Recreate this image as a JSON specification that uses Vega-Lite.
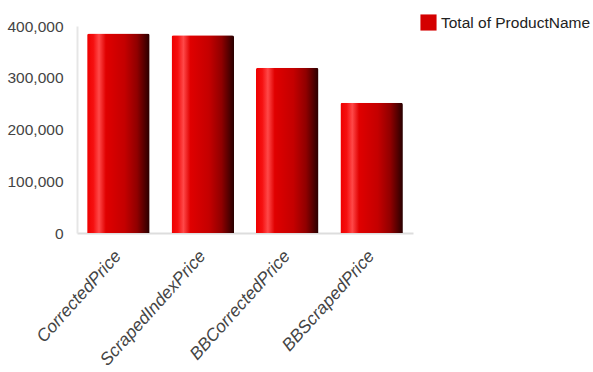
{
  "$schema": "https://vega.github.io/schema/vega-lite/v6.json",
  "autosize": "none",
  "width": 336,
  "height": 207,
  "padding": {"left": 77, "top": 26, "right": 180, "bottom": 139},
  "background": "#ffffff",
  "data": {
    "values": [
      {"category": "CorrectedPrice", "value": 385500, "series": "Total of ProductName"},
      {"category": "ScrapedIndexPrice", "value": 382200, "series": "Total of ProductName"},
      {"category": "BBCorrectedPrice", "value": 319200, "series": "Total of ProductName"},
      {"category": "BBScrapedPrice", "value": 251600, "series": "Total of ProductName"}
    ]
  },
  "encoding": {
    "x": {
      "field": "category",
      "type": "nominal",
      "sort": null,
      "scale": {"paddingInner": 0.26, "paddingOuter": 0.12},
      "axis": {
        "title": null,
        "labelAngle": -48,
        "labelFont": "Liberation Sans, Arial, sans-serif",
        "labelFontSize": 17.5,
        "labelFontStyle": "italic",
        "labelColor": "#444444",
        "ticks": false,
        "labelPadding": 20,
        "domainColor": "#dddddd",
        "domainWidth": 2
      }
    },
    "y": {
      "field": "value",
      "type": "quantitative",
      "scale": {"domain": [0, 400000], "nice": false},
      "axis": {
        "title": null,
        "values": [0, 100000, 200000, 300000, 400000],
        "format": ",d",
        "grid": false,
        "ticks": false,
        "labelPadding": 14,
        "labelFont": "Liberation Sans, Arial, sans-serif",
        "labelFontSize": 15.5,
        "labelColor": "#444444",
        "domainColor": "#e6e6e6",
        "domainWidth": 2
      }
    }
  },
  "layer": [
    {
      "mark": {
        "type": "bar",
        "cornerRadiusTopLeft": 2,
        "cornerRadiusTopRight": 2,
        "color": {
          "gradient": "linear",
          "x1": 0, "y1": 0, "x2": 1, "y2": 0,
          "stops": [
            {"offset": 0, "color": "#ee0000"},
            {"offset": 0.1, "color": "#f51010"},
            {"offset": 0.19, "color": "#ff4848"},
            {"offset": 0.3, "color": "#e00000"},
            {"offset": 0.6, "color": "#c40000"},
            {"offset": 0.8, "color": "#900000"},
            {"offset": 1, "color": "#280000"}
          ]
        }
      }
    },
    {
      "mark": {"type": "square", "opacity": 0, "size": 10},
      "encoding": {
        "fill": {
          "field": "series",
          "type": "nominal",
          "scale": {"range": ["#d40000"]},
          "legend": {
            "title": null,
            "orient": "none",
            "legendX": 343,
            "legendY": -12,
            "symbolType": "square",
            "symbolSize": 260,
            "symbolOpacity": 1,
            "symbolStrokeWidth": 0,
            "labelFont": "Liberation Sans, Arial, sans-serif",
            "labelFontSize": 15.5,
            "labelColor": "#222222",
            "labelOffset": 4
          }
        }
      }
    }
  ],
  "config": {"view": {"stroke": null}}
}
